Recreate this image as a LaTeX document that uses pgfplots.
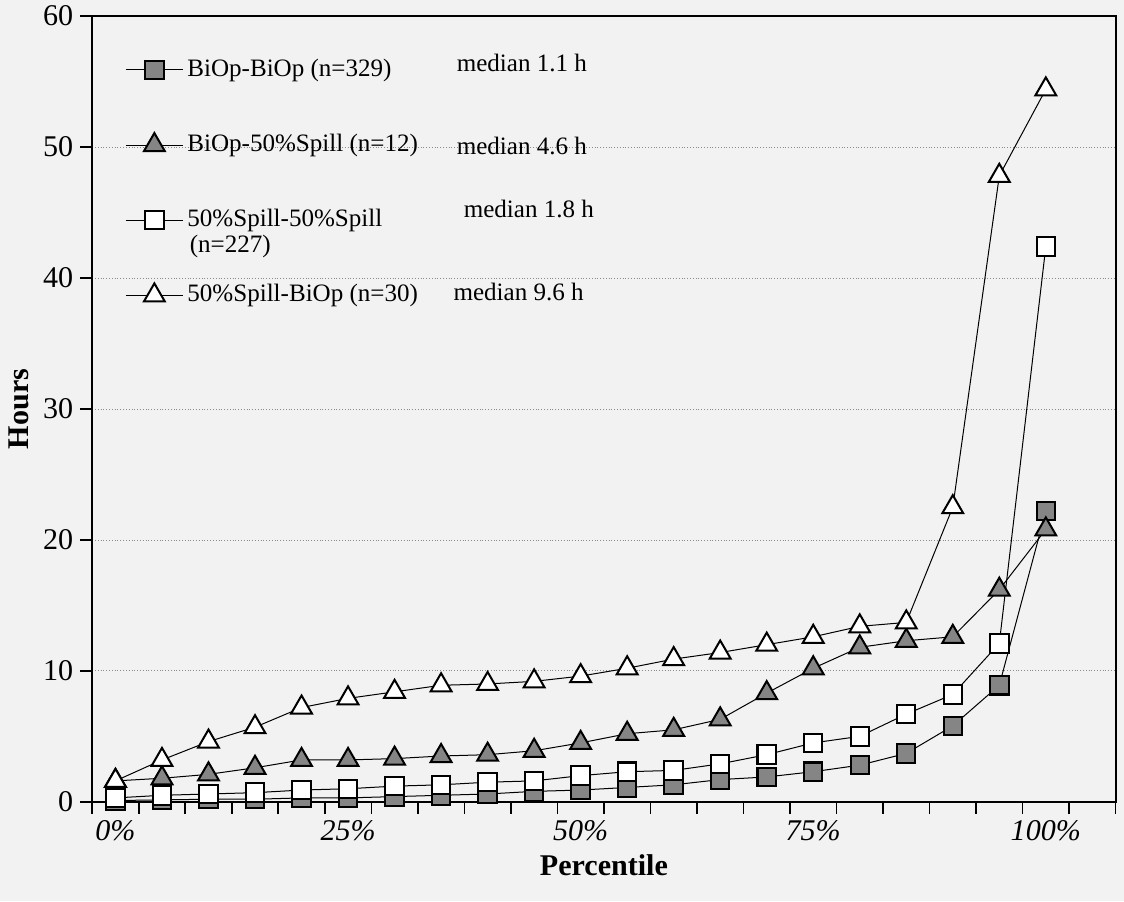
\documentclass[border=0pt]{standalone}
\usepackage{pgfplots}
\pgfplotsset{compat=1.18}
\usepackage{pgfplotstable}
\usepackage{fontspec}
\setmainfont{Liberation Serif}
\usetikzlibrary{backgrounds}
\definecolor{markgray}{gray}{0.52}
\definecolor{paper}{gray}{0.95}

% percentile index (0..20 = 0%..100%), hours for each pairing
\pgfplotstableread{
idx bb   bs   ss   sb
0   0.1  1.6  0.3  1.6
1   0.15 1.8  0.5  3.2
2   0.2  2.1  0.6  4.6
3   0.2  2.6  0.7  5.7
4   0.3  3.2  0.9  7.2
5   0.3  3.2  1.0  7.9
6   0.4  3.3  1.2  8.4
7   0.5  3.5  1.3  8.9
8   0.6  3.6  1.5  9.0
9   0.8  3.9  1.6  9.2
10  0.9  4.5  2.0  9.6
11  1.1  5.2  2.3  10.2
12  1.3  5.5  2.4  10.9
13  1.7  6.3  2.9  11.4
14  1.9  8.3  3.6  12.0
15  2.3  10.2 4.5  12.6
16  2.8  11.8 5.0  13.4
17  3.7  12.3 6.7  13.7
18  5.8  12.6 8.2  22.5
19  8.9  16.2 12.1 47.8
20  22.2 20.8 42.4 54.4
}\hoursdata

\begin{document}
\begin{tikzpicture}
\begin{axis}[
  scale only axis,
  width=510.5pt, height=392pt,
  xmin=-0.5, xmax=21.5,
  ymin=0, ymax=60,
  xtick={0,5,10,15,20},
  xticklabels={0\%,25\%,50\%,75\%,100\%},
  minor xtick={-0.5,0.5,...,21.5},
  major x tick style={draw=none},
  ytick={0,10,...,60},
  xtick pos=bottom, ytick pos=left,
  tick align=outside,
  major tick length=6pt, minor tick length=6pt,
  tick style={black, line width=0.8pt},
  ymajorgrids,
  grid style={densely dotted, black!45, line width=0.4pt},
  axis line style={line width=0.9pt},
  /pgf/number format/assume math mode=true,
  ticklabel style={font=\fontsize{15}{18}\selectfont},
  xticklabel style={font=\fontsize{15}{18}\selectfont\itshape},
  xlabel={\textbf{Percentile}},
  ylabel={\textbf{Hours}},
  label style={font=\fontsize{15}{18}\selectfont},
  legend style={draw=none, fill=none, inner sep=0pt,
    at={(axis description cs:0.032,0.953)}, anchor=north west,
    font=\fontsize{12.5}{15}\selectfont, row sep=21pt,
    nodes={inner sep=2pt, text height=9.5pt, text depth=3pt}},
  legend cell align=left,
  legend image code/.code={\draw[mark repeat=2,mark phase=2,#1] plot coordinates {(0cm,0cm) (0.5cm,0cm) (1cm,0cm)};},
  every axis plot/.append style={black, line width=0.5pt},
]
\addplot[mark=square*, mark size=4.6pt, mark options={fill=markgray, draw=black, line width=1pt}]
  table[x=idx, y=bb] {\hoursdata};
\addlegendentry{BiOp-BiOp (n=329)}
\addplot[mark=triangle*, mark size=6pt, mark options={fill=markgray, draw=black, line width=1pt}]
  table[x=idx, y=bs] {\hoursdata};
\addlegendentry{BiOp-50\%Spill (n=12)}
\addplot[mark=square*, mark size=4.6pt, mark options={fill=white, draw=black, line width=1pt}]
  table[x=idx, y=ss] {\hoursdata};
\addlegendentry{50\%Spill-50\%Spill}
\addplot[mark=triangle*, mark size=6pt, mark options={fill=white, draw=black, line width=1pt}]
  table[x=idx, y=sb] {\hoursdata};
\addlegendentry{50\%Spill-BiOp (n=30)}

\node[anchor=west, inner sep=0pt, font=\fontsize{12.5}{15}\selectfont] at (axis cs:1.59,42.4) {(n=227)};
\node[anchor=west, inner sep=0pt, font=\fontsize{12.5}{15}\selectfont] at (axis cs:7.33,56.4) {median 1.1 h};
\node[anchor=west, inner sep=0pt, font=\fontsize{12.5}{15}\selectfont] at (axis cs:7.33,50.1) {median 4.6 h};
\node[anchor=west, inner sep=0pt, font=\fontsize{12.5}{15}\selectfont] at (axis cs:7.48,45.3) {median 1.8 h};
\node[anchor=west, inner sep=0pt, font=\fontsize{12.5}{15}\selectfont] at (axis cs:7.26,38.9) {median 9.6 h};
\end{axis}
\pgfresetboundingbox
\path[use as bounding box] ([shift={(-46pt,-49.5pt)}]current axis.south west) rectangle ([shift={(4.2pt,8pt)}]current axis.north east);
\begin{pgfonlayer}{background}
\fill[paper] ([shift={(-46pt,-49.5pt)}]current axis.south west) rectangle ([shift={(4.2pt,8pt)}]current axis.north east);
\end{pgfonlayer}
\end{tikzpicture}
\end{document}
